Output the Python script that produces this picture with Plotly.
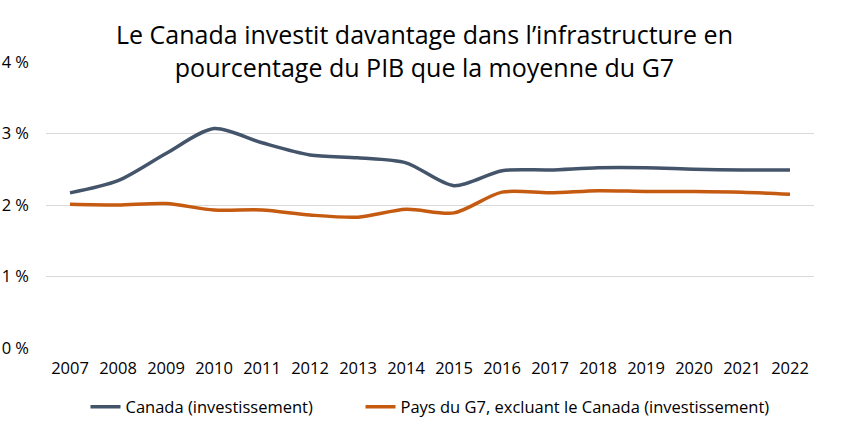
import plotly.graph_objects as go

years = [str(y) for y in range(2007, 2023)]
canada = [2.17, 2.34, 2.72, 3.07, 2.87, 2.70, 2.66, 2.59, 2.27, 2.48, 2.49, 2.52, 2.52, 2.50, 2.49, 2.49]
g7 = [2.01, 2.00, 2.02, 1.93, 1.93, 1.86, 1.83, 1.94, 1.89, 2.18, 2.17, 2.20, 2.19, 2.19, 2.18, 2.15]
ytickvals = [0, 1, 2, 3, 4]
yticktext = ["0 %", "1 %", "2 %", "3 %", "4 %"]
names = ["Canada (investissement)", "Pays du G7, excluant le Canada (investissement)"]
title = "Le Canada investit davantage dans l’infrastructure en<br>pourcentage du PIB que la moyenne du G7"

font = "Open Sans"
fig = go.Figure()
fig.add_trace(go.Scatter(x=years, y=canada, name=names[0], mode="lines", legendwidth=230,
                         line=dict(color="#44546A", width=3.5, shape="spline", smoothing=0.8)))
fig.add_trace(go.Scatter(x=years, y=g7, name=names[1], mode="lines",
                         line=dict(color="#C55A11", width=3.5, shape="spline", smoothing=0.8)))

fig.add_annotation(text=title, xref="paper", yref="paper", x=(424 - 46) / 768, y=(348 - 15) / 286,
                   xanchor="center", yanchor="top", showarrow=False, align="center",
                   font=dict(family=font, size=25, color="#000000"))

fig.update_layout(
    width=850, height=437,
    margin=dict(l=46, r=36, t=62, b=89),
    paper_bgcolor="white", plot_bgcolor="white",
    font=dict(family=font, size=15, color="#000000"),
    xaxis=dict(type="category", range=[-0.5, 15.5], showgrid=False, showline=False, zeroline=False,
               ticks="", tickfont=dict(size=16.5), ticklabelstandoff=8, automargin=False),
    yaxis=dict(range=[0, 4], tickvals=ytickvals, ticktext=yticktext,
               showgrid=True, gridcolor="#D9D9D9", gridwidth=1, zeroline=False,
               showline=False, ticks="", tickfont=dict(size=16.5), ticklabelstandoff=16, automargin=False),
    legend=dict(orientation="h", x=0.5, xanchor="center", y=-0.206, yanchor="middle",
                font=dict(size=16.5), itemwidth=30, traceorder="normal"),
    showlegend=True,
)
fig.write_html("out.html")
